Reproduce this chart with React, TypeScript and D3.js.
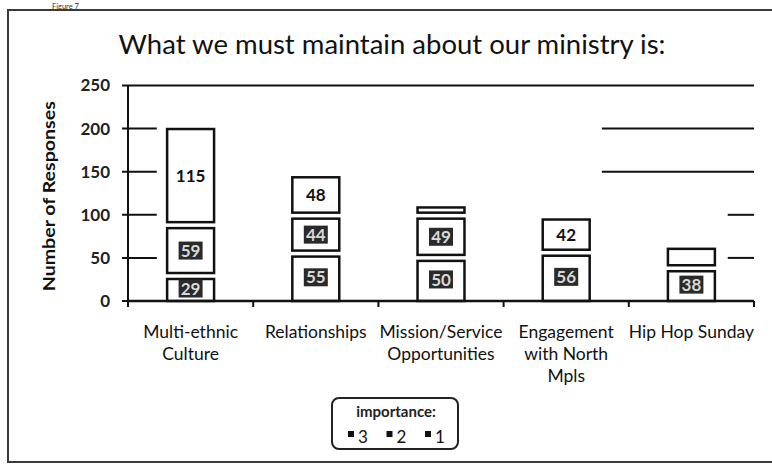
import React from "react";
import * as d3 from "d3";

const categories = [
  "Multi-ethnic Culture",
  "Relationships",
  "Mission/Service Opportunities",
  "Engagement with North Mpls",
  "Hip Hop Sunday",
];
const categoryLines = [
  ["Multi-ethnic", "Culture"],
  ["Relationships"],
  ["Mission/Service", "Opportunities"],
  ["Engagement", "with North", "Mpls"],
  ["Hip Hop Sunday"],
];
const importance3 = [29, 55, 50, 56, 38];
const importance2 = [59, 44, 49, 0, 0];
const importance1 = [115, 48, 13, 42, 26];
const seriesNames = ["3", "2", "1"];
const yTicks = [0, 50, 100, 150, 200, 250];

const W = 772;
const H = 464;
const left = 128;
const right = 754;
const top = 85.5;
const bottom = 301;
const FONT = "Lato, 'Open Sans', sans-serif";

export default function App() {
  const x = d3
    .scaleBand<string>()
    .domain(categories)
    .range([left, right])
    .paddingInner(0.625)
    .paddingOuter(0.3125);
  const y = d3.scaleLinear().domain([0, 250]).range([bottom, top]);

  const rows = categories.map((c, i) => ({
    cat: c,
    s3: importance3[i],
    s2: importance2[i],
    s1: importance1[i],
  }));
  const stack = d3.stack<any>().keys(["s3", "s2", "s1"]);
  const layers = stack(rows);

  const step = x.step();
  const boundaries = d3.range(categories.length + 1).map((k) => left + k * step);
  const plotW = right - left;

  // visible gridline fragments (as in the scanned figure)
  const gridFragments: { v: number; segs: [number, number][] }[] = [
    { v: 200, segs: [[0, 0.046], [0.757, 1]] },
    { v: 150, segs: [[0, 0.046], [0.757, 1]] },
    { v: 100, segs: [[0, 0.046], [0.958, 1]] },
    { v: 50, segs: [[0, 0.046], [0.958, 1]] },
  ];

  const gap = 3;

  return (
    <svg
      width={W}
      height={H}
      style={{ position: "absolute", left: 0, top: 0, display: "block", background: "#fff" }}
      fontFamily={FONT}
    >
      <rect x={0} y={0} width={W} height={H} fill="#fff" />
      <text x={52} y={8.5} fontSize={7.5} fill="#333">Figure 7</text>
      <rect x={8} y={10} width={800} height={452} fill="none" stroke="#3a3a3a" strokeWidth={2} />

      <text x={392} y={54} textAnchor="middle" fontSize={27.5} fill="#111">
        What we must maintain about our ministry is:
      </text>

      {/* gridlines */}
      <line x1={left - 6} x2={right} y1={y(250)} y2={y(250)} stroke="#111" strokeWidth={2} />
      {gridFragments.map((g) =>
        g.segs.map((s, j) => (
          <line
            key={g.v + "-" + j}
            x1={j === 0 ? left - 6 : left + s[0] * plotW}
            x2={left + s[1] * plotW}
            y1={y(g.v)}
            y2={y(g.v)}
            stroke="#111"
            strokeWidth={2}
          />
        ))
      )}

      {/* y axis */}
      <line x1={left} x2={left} y1={y(250)} y2={bottom} stroke="#111" strokeWidth={2} />
      <line x1={left - 6} x2={left} y1={bottom} y2={bottom} stroke="#111" strokeWidth={2} />
      {yTicks.map((t) => (
        <text
          key={t}
          x={110}
          y={y(t)}
          dy="0.35em"
          textAnchor="end"
          fontSize={17}
          fontWeight="bold"
          fill="#222"
        >
          {t}
        </text>
      ))}
      <text
        transform={`translate(55,${(top + bottom) / 2 + 3}) rotate(-90)`}
        textAnchor="middle"
        fontSize={17}
        fontWeight="bold"
        fill="#111"
        textLength={190}
        lengthAdjust="spacingAndGlyphs"
      >
        Number of Responses
      </text>

      {/* bars */}
      {layers.map((layer, li) =>
        layer.map((d, i) => {
          const v = d[1] - d[0];
          if (v <= 0) return null;
          const bx = x(categories[i])!;
          const bw = x.bandwidth();
          const y0 = d[0] === 0 ? y(d[0]) : y(d[0]) - gap;
          const y1 = y(d[1]) + gap;
          return (
            <rect
              key={li + "-" + i}
              x={bx}
              y={y1}
              width={bw}
              height={Math.max(0, y0 - y1)}
              fill="#fff"
              stroke="#111"
              strokeWidth={2.5}
            />
          );
        })
      )}

      {/* x axis */}
      <line x1={left} x2={right} y1={bottom} y2={bottom} stroke="#111" strokeWidth={2.5} />
      {boundaries.map((b, k) => (
        <line key={k} x1={b} x2={b} y1={bottom} y2={bottom + 6} stroke="#111" strokeWidth={2} />
      ))}

      {/* data labels */}
      {layers.map((layer, li) =>
        layer.map((d, i) => {
          const v = d[1] - d[0];
          if (v < 28) return null;
          const cx = x(categories[i])! + x.bandwidth() / 2;
          const cy = (y(d[0]) + y(d[1])) / 2;
          const dark = seriesNames[li] !== "1";
          return (
            <g key={"l" + li + "-" + i}>
              {dark && (
                <rect x={cx - 12} y={cy - 9} width={24} height={18} fill="#2a2a2a" />
              )}
              <text
                x={cx}
                y={cy}
                dy="0.36em"
                textAnchor="middle"
                fontSize={17}
                fontWeight="bold"
                fill={dark ? "#d8d8d8" : "#111"}
              >
                {v}
              </text>
            </g>
          );
        })
      )}

      {/* category labels */}
      {categoryLines.map((lines, i) => (
        <text
          key={i}
          x={x(categories[i])! + x.bandwidth() / 2}
          y={338}
          textAnchor="middle"
          fontSize={17.5}
          fill="#111"
        >
          {lines.map((ln, j) => (
            <tspan key={j} x={x(categories[i])! + x.bandwidth() / 2} dy={j === 0 ? 0 : 22}>
              {ln}
            </tspan>
          ))}
        </text>
      ))}

      {/* legend */}
      <rect x={332} y={398} width={126} height={51} rx={7} fill="#fff" stroke="#222" strokeWidth={2} />
      <text x={396} y={417} textAnchor="middle" fontSize={15} fontWeight="bold" fill="#222">
        importance:
      </text>
      {seriesNames.map((s, k) => {
        const lx = 348 + k * 38.5;
        return (
          <g key={s}>
            <rect x={lx} y={431} width={6} height={6} fill="#111" />
            <text x={lx + 10} y={443} fontSize={17} fill="#111">
              {s}
            </text>
          </g>
        );
      })}
    </svg>
  );
}
